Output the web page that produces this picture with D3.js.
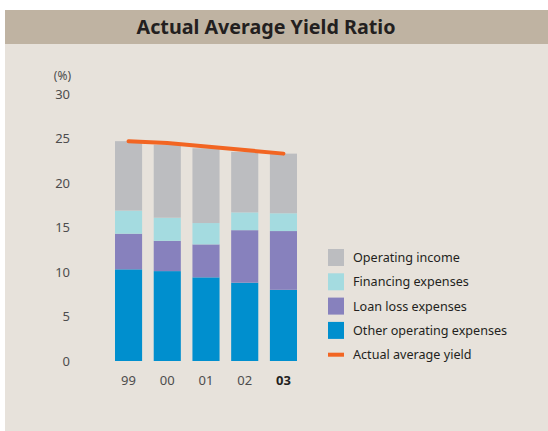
<!DOCTYPE html>
<html>
<head>
<meta charset="utf-8">
<script src="https://cdn.jsdelivr.net/npm/d3@7"></script>
<style>
  html, body { margin: 0; padding: 0; background: #ffffff; }
  svg { display: block; }
  text { font-family: "Noto Sans", "Open Sans", sans-serif; }
</style>
</head>
<body>
<svg id="chart" width="548" height="431"></svg>
<script>
// Fiscal years (last one highlighted)
const years = ["99", "00", "01", "02", "03"];

// Stacked components, % of average balance (bottom to top)
const otherOperatingExpenses = [10.3, 10.1, 9.4, 8.8, 8.0];
const loanLossExpenses       = [4.0, 3.4, 3.7, 5.9, 6.6];
const financingExpenses      = [2.6, 2.6, 2.4, 2.0, 2.0];
const operatingIncome        = [7.8, 8.2, 8.4, 6.8, 6.7];

// Actual average yield (%)
const actualAverageYield = [24.7, 24.5, 24.1, 23.7, 23.3];

const yTicks = [0, 5, 10, 15, 20, 25, 30];

const series = [
  { key: "other",     label: "Other operating expenses", values: otherOperatingExpenses, color: "#008fce" },
  { key: "loan",      label: "Loan loss expenses",       values: loanLossExpenses,       color: "#8781bd" },
  { key: "financing", label: "Financing expenses",       values: financingExpenses,      color: "#a4dbe0" },
  { key: "income",    label: "Operating income",         values: operatingIncome,        color: "#bcbdc0" }
];

const svg = d3.select("#chart");

// Panel and title band
svg.append("rect").attr("x", 5).attr("y", 10).attr("width", 543).attr("height", 421).attr("fill", "#e7e2db");
svg.append("rect").attr("x", 5).attr("y", 10).attr("width", 543).attr("height", 34).attr("fill", "#bfb3a2");
svg.append("text")
  .attr("x", 266).attr("y", 34)
  .attr("text-anchor", "middle")
  .attr("font-size", 19.7).attr("font-weight", "bold")
  .attr("fill", "#231f20")
  .text("Actual Average Yield Ratio");

// Scales
const x = d3.scaleBand().domain(years).range([115, 297]).paddingInner(0.3).paddingOuter(0);
const y = d3.scaleLinear().domain([0, 30]).range([361, 94]);

// Stack data
const rows = years.map((yr, i) => {
  const r = { year: yr };
  series.forEach(s => { r[s.key] = s.values[i]; });
  return r;
});
const stacked = d3.stack().keys(series.map(s => s.key))(rows);

const g = svg.append("g");
g.selectAll("g.layer")
  .data(stacked)
  .join("g")
  .attr("class", "layer")
  .attr("fill", (d, i) => series[i].color)
  .selectAll("rect")
  .data(d => d)
  .join("rect")
  .attr("x", d => x(d.data.year))
  .attr("width", x.bandwidth())
  .attr("y", d => y(d[1]))
  .attr("height", d => y(d[0]) - y(d[1]));

// Y axis labels (no line)
const yAxis = d3.axisLeft(y).tickValues(yTicks).tickSize(0).tickPadding(0);
const ya = svg.append("g").attr("transform", "translate(70,0)").call(yAxis);
ya.select(".domain").remove();
ya.selectAll("text")
  .attr("font-family", "Noto Sans, sans-serif")
  .attr("font-size", 13).attr("fill", "#4d4d4d");

svg.append("text")
  .attr("x", 71).attr("y", 80)
  .attr("text-anchor", "end")
  .attr("font-size", 12).attr("fill", "#4d4d4d")
  .text("(%)");

// X axis labels
const xAxis = d3.axisBottom(x).tickSize(0).tickPadding(0);
const xa = svg.append("g").attr("transform", "translate(0,376)").call(xAxis);
xa.select(".domain").remove();
xa.selectAll("text")
  .attr("font-family", "Noto Sans, sans-serif")
  .attr("font-size", 13)
  .attr("font-weight", d => d === "03" ? "bold" : "normal")
  .attr("fill", d => d === "03" ? "#231f20" : "#4d4d4d");

// Yield line
const line = d3.line()
  .x((d, i) => x(years[i]) + x.bandwidth() / 2)
  .y(d => y(d));
svg.append("path")
  .datum(actualAverageYield)
  .attr("d", line)
  .attr("fill", "none")
  .attr("stroke", "#f26522")
  .attr("stroke-width", 4)
  .attr("stroke-linecap", "round");

// Legend
const rowStep = 24.3;
const legendItems = series.slice().reverse();
const lg = svg.append("g").attr("transform", "translate(328,249)");
legendItems.forEach((s, i) => {
  const yy = i * rowStep;
  lg.append("rect").attr("x", 0).attr("y", yy).attr("width", 16).attr("height", 17).attr("fill", s.color);
  lg.append("text").attr("x", 25).attr("y", yy + 13)
    .attr("font-size", 12.6).attr("fill", "#231f20").text(s.label);
});
const lastRow = 4 * rowStep;
lg.append("rect").attr("x", 0).attr("y", lastRow + 6.5).attr("width", 16).attr("height", 4).attr("fill", "#f26522");
lg.append("text").attr("x", 25).attr("y", lastRow + 13)
  .attr("font-size", 12.6).attr("fill", "#231f20").text("Actual average yield");
</script>
</body>
</html>
